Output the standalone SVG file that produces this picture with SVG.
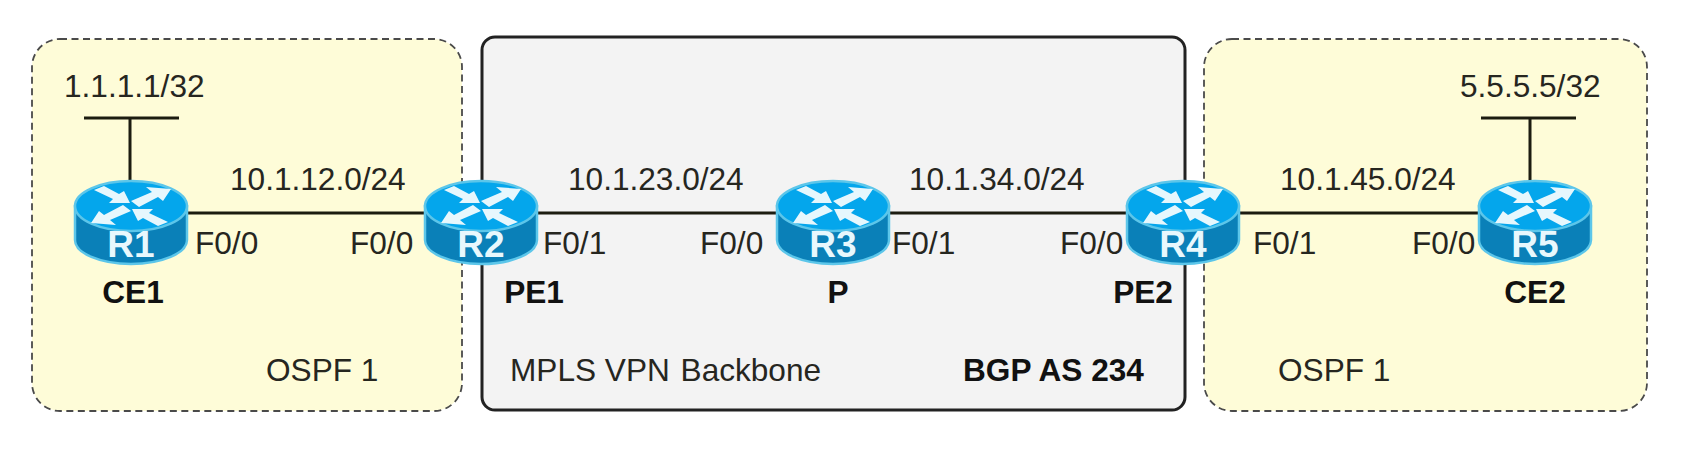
<svg xmlns="http://www.w3.org/2000/svg" xmlns:xlink="http://www.w3.org/1999/xlink" width="1694" height="456" viewBox="0 0 1694 456">
<style>
text{font-family:"Liberation Sans",Arial,sans-serif;font-size:31.6px;fill:#26261f}
.b{font-weight:bold;fill:#111}
.m{text-anchor:middle}
.rl{font-weight:bold;font-size:37px;fill:#e8f8fd;text-anchor:middle}
.zone{fill:#fefcd8;stroke:#4a4a4a;stroke-width:1.8;stroke-dasharray:7 4.5}
.core{fill:#f3f3f3;stroke:#222;stroke-width:3}
.link{stroke:#1c1c10;stroke-width:3;fill:none}
</style>
<defs>
<g id="router">
<path d="M-56 0V34A56 24 0 0 0 56 34V0Z" fill="#0a80b8" stroke="#5cc6ea" stroke-width="2.5"/>
<ellipse rx="56" ry="25" fill="#04a6ec" stroke="#5cc6ea" stroke-width="2.5"/>
<g fill="#e6f7fd">
<path id="ao" d="M0-5L21-14L15-19L40-17L32-5L27-9L8 1Z"/>
<path id="ai" d="M-37-16L-27-20L-12-12L-7-15L-1-3L-22-3L-18-7Z"/>
<use xlink:href="#ao" href="#ao" transform="scale(-1)"/>
<use xlink:href="#ai" href="#ai" transform="scale(-1)"/>
</g>
</g>
</defs>
<rect width="1694" height="456" fill="#fff"/>
<g id="zones">
<rect id="zone-left" class="zone" x="32" y="39" width="430" height="372" rx="28"/>
<rect id="zone-core" class="core" x="482" y="37" width="703" height="373" rx="13"/>
<rect id="zone-right" class="zone" x="1204" y="39" width="443" height="372" rx="28"/>
</g>
<g id="connectors">
<path class="link" d="M130 118V185M84 118H179"/>
<path class="link" d="M1530 118V185M1481 118H1576"/>
<path class="link" d="M185 213H430"/>
<path class="link" d="M535 213H780"/>
<path class="link" d="M886 213H1130"/>
<path class="link" d="M1236 213H1480"/>
</g>
<g id="node-r1"><use xlink:href="#router" href="#router" transform="translate(131 206)"/><text class="rl" x="131" y="257">R1</text><text class="b m" x="133" y="303">CE1</text></g>
<g id="node-r2"><use xlink:href="#router" href="#router" transform="translate(481 206)"/><text class="rl" x="481" y="257">R2</text><text class="b m" x="534" y="303">PE1</text></g>
<g id="node-r3"><use xlink:href="#router" href="#router" transform="translate(833 206)"/><text class="rl" x="833" y="257">R3</text><text class="b m" x="838" y="303">P</text></g>
<g id="node-r4"><use xlink:href="#router" href="#router" transform="translate(1183 206)"/><text class="rl" x="1183" y="257">R4</text><text class="b m" x="1143" y="303">PE2</text></g>
<g id="node-r5"><use xlink:href="#router" href="#router" transform="translate(1535 206)"/><text class="rl" x="1535" y="257">R5</text><text class="b m" x="1535" y="303">CE2</text></g>
<g id="labels">
<text x="64" y="97">1.1.1.1/32</text>
<text x="1460" y="97">5.5.5.5/32</text>
<text x="230" y="190">10.1.12.0/24</text>
<text x="568" y="190">10.1.23.0/24</text>
<text x="909" y="190">10.1.34.0/24</text>
<text x="1280" y="190">10.1.45.0/24</text>
<text x="195" y="254">F0/0</text>
<text x="350" y="254">F0/0</text>
<text x="543" y="254">F0/1</text>
<text x="700" y="254">F0/0</text>
<text x="892" y="254">F0/1</text>
<text x="1060" y="254">F0/0</text>
<text x="1253" y="254">F0/1</text>
<text x="1412" y="254">F0/0</text>
<text x="266" y="381">OSPF 1</text>
<text x="1278" y="381">OSPF 1</text>
<text x="510" y="381">MPLS VPN <tspan dx="2">Backbone</tspan></text>
<text class="b" x="963" y="381">BGP AS 234</text>
</g>
</svg>
